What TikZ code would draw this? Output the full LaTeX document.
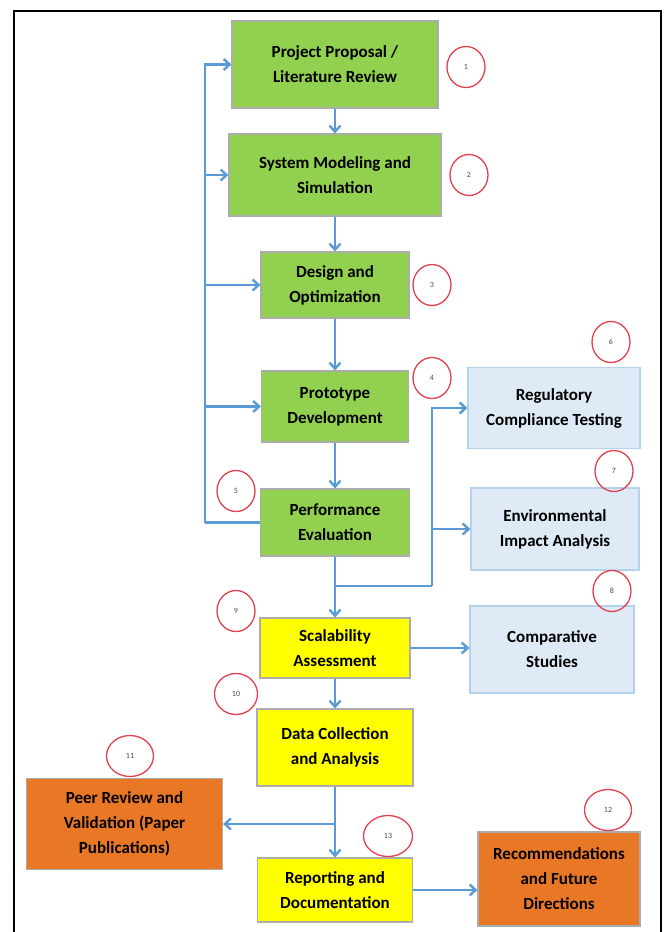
\documentclass[tikz,border=0pt]{standalone}
\usepackage{fontspec}
\setmainfont{Carlito}
\usetikzlibrary{arrows.meta,shapes.geometric}
\definecolor{stepgreen}{RGB}{146,208,80}
\definecolor{stepyellow}{RGB}{255,255,0}
\definecolor{stepblue}{RGB}{222,234,246}
\definecolor{steporange}{RGB}{232,119,38}
\definecolor{arrowblue}{RGB}{91,155,213}
\definecolor{badgered}{RGB}{226,64,78}
\begin{document}
\begin{tikzpicture}[x=1pt,y=-1pt]
\tikzstyle{box}=[draw=gray!65,line width=1.2pt,align=center,inner sep=0pt,
  font=\bfseries\fontsize{17}{25}\selectfont];
\tikzstyle{greenbox}=[box,fill=stepgreen];
\tikzstyle{yellowbox}=[box,fill=stepyellow];
\tikzstyle{bluebox}=[box,fill=stepblue,draw=arrowblue!45];
\tikzstyle{orangebox}=[box,fill=steporange];
\tikzstyle{badge}=[draw=badgered,line width=1.3pt,ellipse,inner sep=0pt,
  minimum width=38,minimum height=41,text=gray!60!black,font=\fontsize{8}{9}\selectfont];
\tikzstyle{widebadge}=[badge,minimum width=47];
\tikzstyle{wire}=[draw=arrowblue,line width=2.4pt];
\tikzstyle{flow}=[wire,-{Straight Barb[length=6pt,width=11pt]}];

\useasboundingbox (0,0) rectangle (665,932);
\draw[line width=2pt] (14,932) -- (14,11) -- (661,11) -- (661,932);

% main column
\draw (335,64.5) node[greenbox,minimum width=206,minimum height=87] (proposal) {Project Proposal /\\Literature Review};
\draw (335,175) node[greenbox,minimum width=212,minimum height=82] (modeling) {System Modeling and\\Simulation};
\draw (335,285) node[greenbox,minimum width=148,minimum height=66] (design) {Design and\\Optimization};
\draw (335,406.5) node[greenbox,minimum width=147,minimum height=71] (prototype) {Prototype\\Development};
\draw (335,522.5) node[greenbox,minimum width=149,minimum height=67] (evaluation) {Performance\\Evaluation};
\draw (335,648) node[yellowbox,minimum width=150,minimum height=60] (scalability) {Scalability\\Assessment};
\draw (335,747.5) node[yellowbox,minimum width=156,minimum height=77] (datacoll) {Data Collection\\and Analysis};
\draw (335,890) node[yellowbox,minimum width=155,minimum height=64] (reporting) {Reporting and\\Documentation};

% side boxes
\draw (554,408) node[bluebox,minimum width=172,minimum height=81] (regulatory) {Regulatory\\Compliance Testing};
\draw (555,529) node[bluebox,minimum width=168,minimum height=82] (environmental) {Environmental\\Impact Analysis};
\draw (552,649.5) node[bluebox,minimum width=164,minimum height=87] (comparative) {Comparative\\Studies};
\draw (124.5,824) node[orangebox,minimum width=196,minimum height=91] (peer) {Peer Review and\\Validation (Paper\\Publications)};
\draw (559,879) node[orangebox,minimum width=162,minimum height=94] (recommend) {Recommendations\\and Future\\Directions};

% numbers
\draw (466,67) node[badge] (n1) {1};
\draw (469,175) node[badge] (n2) {2};
\draw (432,285) node[badge] (n3) {3};
\draw (432,378) node[badge] (n4) {4};
\draw (236,491) node[badge] (n5) {5};
\draw (611,342) node[badge] (n6) {6};
\draw (614,471) node[badge] (n7) {7};
\draw (612,591) node[badge] (n8) {8};
\draw (236,611) node[badge] (n9) {9};
\draw (236,694) node[widebadge,minimum width=43] (n10) {10};
\draw (130,756) node[widebadge] (n11) {11};
\draw (608,810) node[widebadge] (n12) {12};
\draw (388,836) node[widebadge,minimum width=49] (n13) {13};

% connectors
\coordinate (back) at (205,522.5);
\coordinate (fork) at (335,586);
\coordinate (side) at (432,586);
\coordinate (split) at (335,824);

\draw[flow] (proposal) -- (modeling);
\draw[flow] (modeling) -- (design);
\draw[flow] (design) -- (prototype);
\draw[flow] (prototype) -- (evaluation);
\draw[flow] (evaluation) -- (scalability);
\draw[flow] (scalability) -- (datacoll);
\draw[flow] (datacoll) -- (reporting);

\draw[wire] (evaluation.west) -- (back);
\draw[flow] (back) |- (proposal.west);
\draw[flow] (back) |- (modeling.west);
\draw[flow] (back) |- (design.west);
\draw[flow] (back) |- (prototype.west);

\draw[wire] (fork) -- (side);
\draw[flow] (side) |- (regulatory.west);
\draw[flow] (side) |- (environmental.west);

\draw[flow] (scalability.east) -- (scalability.east -| comparative.west);
\draw[flow] (split) -- (peer.east);
\draw[flow] (reporting.east) -- (reporting.east -| recommend.west);
\end{tikzpicture}
\end{document}
